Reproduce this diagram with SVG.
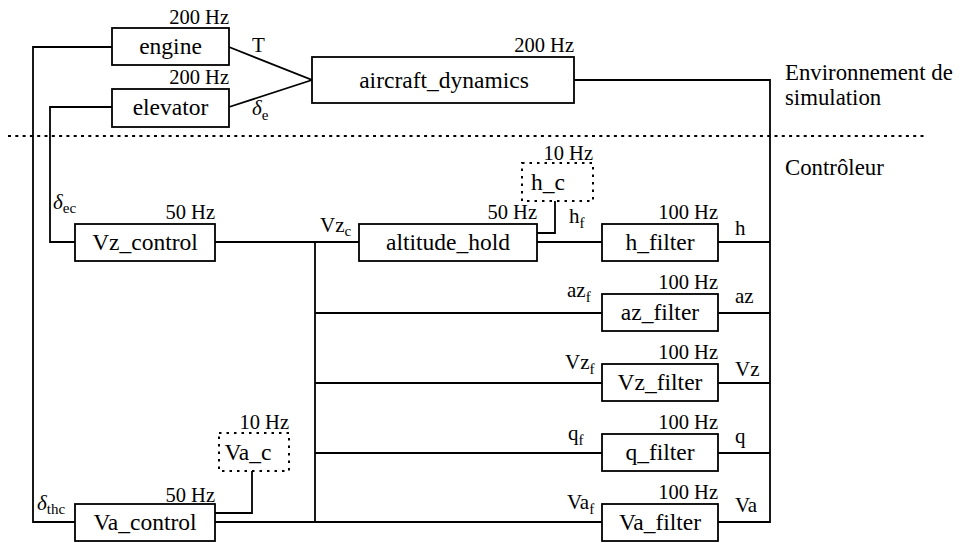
<svg xmlns="http://www.w3.org/2000/svg" width="965" height="543" viewBox="0 0 965 543">
<style>
.box{fill:#fff;stroke:#000;stroke-width:1.8}
.dbox{fill:none;stroke:#000;stroke-width:2;stroke-dasharray:2.5 5}
.w{fill:none;stroke:#000;stroke-width:1.8}
text{font-family:"Liberation Serif",Tinos,"Times New Roman",Times,"Nimbus Roman","Noto Serif","DejaVu Serif",serif;fill:#000}
.lb{font-size:23.5px;text-anchor:middle}
.hz{font-size:20.5px;text-anchor:end}
.sg{font-size:21px}
.sub{font-size:15px}
.it{font-style:italic}
.note{font-size:22.8px}
</style>
<rect width="965" height="543" fill="#fff"/>
<g id="connectors">
<polyline class="w" points="112,47 33,47 33,522 75,522"/>
<polyline class="w" points="112,107 50,107 50,242 75,242"/>
<polyline class="w" points="229,47 312,80 229,107"/>
<polyline class="w" points="574,80 770,80 770,522 718,522"/>
<line class="w" x1="718" y1="242" x2="770" y2="242"/>
<line class="w" x1="718" y1="313" x2="770" y2="313"/>
<line class="w" x1="718" y1="383" x2="770" y2="383"/>
<line class="w" x1="718" y1="453" x2="770" y2="453"/>
<line class="w" x1="215" y1="242" x2="359" y2="242"/>
<line class="w" x1="315" y1="242" x2="315" y2="522"/>
<line class="w" x1="315" y1="313" x2="602" y2="313"/>
<line class="w" x1="315" y1="383" x2="602" y2="383"/>
<line class="w" x1="315" y1="453" x2="602" y2="453"/>
<line class="w" x1="215" y1="522" x2="602" y2="522"/>
<line class="w" x1="537" y1="242" x2="602" y2="242"/>
<polyline class="w" points="537,233 555,233 555,201"/>
<polyline class="w" points="252,471 252,513 215,513"/>
</g>
<line x1="8" y1="136" x2="925" y2="136" stroke="#000" stroke-width="2" stroke-dasharray="3 4.3"/>
<text class="note" x="785" y="80">Environnement de</text>
<text class="note" x="785" y="105">simulation</text>
<text class="note" x="785" y="175">Contrôleur</text>
<g id="engine"><rect class="box" x="112" y="28" width="117" height="37"/><text class="lb" x="170.5" y="54">engine</text><text class="hz" x="229" y="24">200 Hz</text></g>
<g id="elevator"><rect class="box" x="112" y="89" width="117" height="38"/><text class="lb" x="170.5" y="115">elevator</text><text class="hz" x="229" y="84">200 Hz</text></g>
<g id="aircraft_dynamics"><rect class="box" x="312" y="57" width="262" height="46"/><text class="lb" x="444" y="88">aircraft_dynamics</text><text class="hz" x="574" y="52">200 Hz</text></g>
<g id="Vz_control"><rect class="box" x="75" y="224" width="140" height="37"/><text class="lb" x="145" y="250">Vz_control</text><text class="hz" x="215" y="219">50 Hz</text></g>
<g id="altitude_hold"><rect class="box" x="359" y="224" width="178" height="37"/><text class="lb" x="448" y="250">altitude_hold</text><text class="hz" x="537" y="219">50 Hz</text></g>
<g id="h_c"><rect class="dbox" x="522" y="163" width="71" height="38"/><text class="lb" x="548" y="190">h_c</text><text class="hz" x="593" y="160">10 Hz</text></g>
<g id="h_filter"><rect class="box" x="602" y="224" width="116" height="37"/><text class="lb" x="660" y="250">h_filter</text><text class="hz" x="718" y="219">100 Hz</text></g>
<g id="az_filter"><rect class="box" x="602" y="294" width="116" height="37"/><text class="lb" x="660" y="320">az_filter</text><text class="hz" x="718" y="289">100 Hz</text></g>
<g id="Vz_filter"><rect class="box" x="602" y="364" width="116" height="37"/><text class="lb" x="660" y="390">Vz_filter</text><text class="hz" x="718" y="359">100 Hz</text></g>
<g id="q_filter"><rect class="box" x="602" y="434" width="116" height="37"/><text class="lb" x="660" y="460">q_filter</text><text class="hz" x="718" y="429">100 Hz</text></g>
<g id="Va_filter"><rect class="box" x="602" y="504" width="116" height="37"/><text class="lb" x="660" y="530">Va_filter</text><text class="hz" x="718" y="499">100 Hz</text></g>
<g id="Va_c"><rect class="dbox" x="219" y="433" width="70" height="38"/><text class="lb" x="248" y="460">Va_c</text><text class="hz" x="289" y="429">10 Hz</text></g>
<g id="Va_control"><rect class="box" x="75" y="504" width="140" height="37"/><text class="lb" x="145" y="530">Va_control</text><text class="hz" x="215" y="502">50 Hz</text></g>
<g id="labels">
<text class="sg" x="252" y="52">T</text>
<text class="sg" x="252" y="115"><tspan class="it">δ</tspan><tspan class="sub" dy="5">e</tspan></text>
<text class="sg" x="53" y="209"><tspan class="it">δ</tspan><tspan class="sub" dy="4">ec</tspan></text>
<text class="sg" x="37" y="510"><tspan class="it">δ</tspan><tspan class="sub" dy="4">thc</tspan></text>
<text class="sg" x="320" y="232">Vz<tspan class="sub" dy="4">c</tspan></text>
<text class="sg" x="569" y="223">h<tspan class="sub" dy="5">f</tspan></text>
<text class="sg" x="567" y="297">az<tspan class="sub" dy="5">f</tspan></text>
<text class="sg" x="565" y="369">Vz<tspan class="sub" dy="5">f</tspan></text>
<text class="sg" x="568" y="440">q<tspan class="sub" dy="5">f</tspan></text>
<text class="sg" x="567" y="509">Va<tspan class="sub" dy="5">f</tspan></text>
<text class="sg" x="735" y="235">h</text>
<text class="sg" x="735" y="303">az</text>
<text class="sg" x="735" y="376">Vz</text>
<text class="sg" x="735" y="443">q</text>
<text class="sg" x="735" y="512">Va</text>
</g>
</svg>
